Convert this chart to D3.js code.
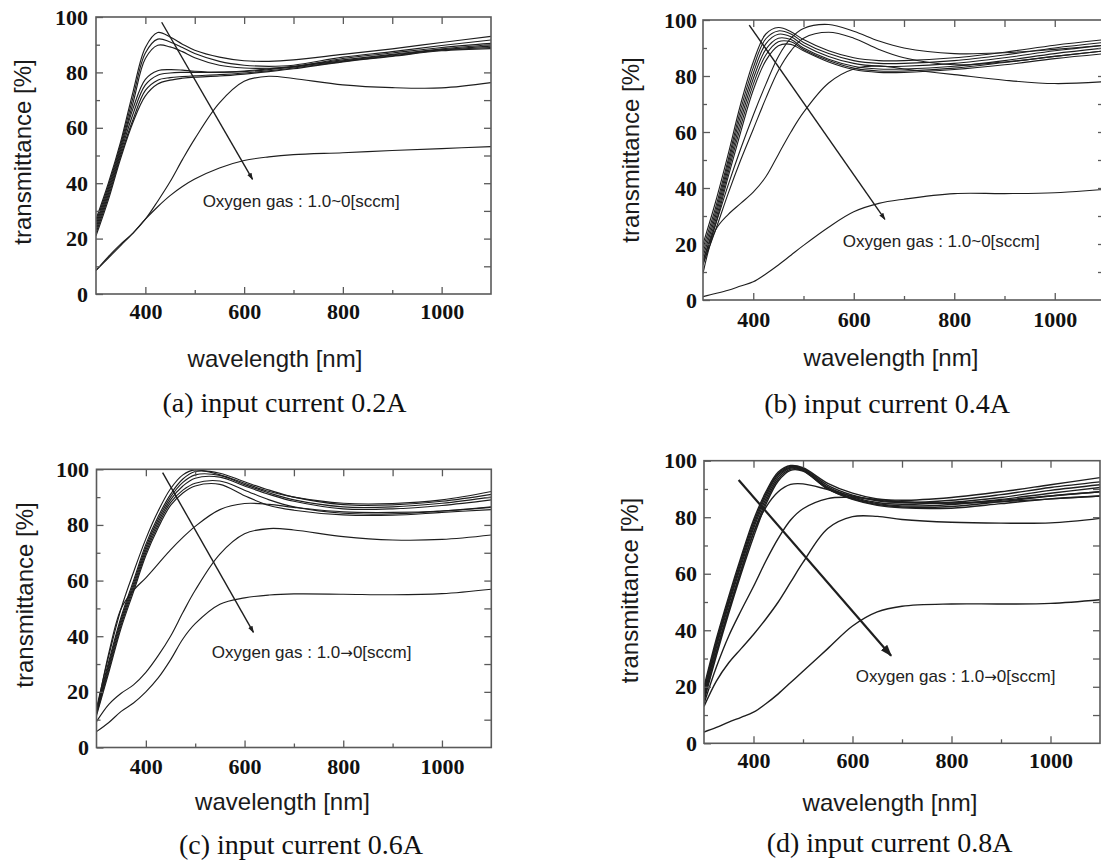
<!DOCTYPE html>
<html>
<head>
<meta charset="utf-8">
<script src="https://cdn.jsdelivr.net/npm/d3@7"></script>
<style>
  html, body { margin: 0; padding: 0; background: #fff; }
  svg { display: block; }
</style>
</head>
<body>
<svg id="chart" width="1101" height="864"></svg>
<script>
// ── Data ──────────────────────────────────────
const wavelengths = [300, 325, 350, 375, 400, 425, 450, 475, 500, 550, 600, 650, 700, 800, 900, 1000, 1100];

const xMajorTicks = [400, 600, 800, 1000];
const xMinorTicks = [500, 700, 900];
const xAllTicks   = [400, 500, 600, 700, 800, 900, 1000];
const yMajorTicks = [0, 20, 40, 60, 80, 100];
const yMinorTicks = [10, 30, 50, 70, 90];

// (a) input current 0.2A
const curvesA = [
  [27, 40, 55, 73, 89, 94.4, 92.8, 90.2, 88, 85.5, 84.2, 84, 84.5, 86.5, 88.5, 90.8, 93],
  [26, 39, 54, 71, 87, 92, 91, 89, 86.8, 84, 82.6, 82.2, 82.6, 85.5, 87.5, 89.7, 91.7],
  [25, 38, 53, 69, 85, 89.8, 89.2, 87.5, 85.3, 82.6, 81.6, 81.5, 82, 85, 87, 89, 90.5],
  [24, 37, 52, 67, 77.5, 80.6, 81, 80.8, 80.4, 80.1, 80.5, 81.3, 82.2, 84.5, 86.5, 88.5, 90],
  [23, 36, 51, 65, 75.5, 79, 79.8, 80, 80, 80, 80.3, 81, 82, 84.2, 86.3, 88.2, 89.5],
  [22, 35, 50, 63, 73.5, 77.2, 78.1, 78.5, 78.8, 79.2, 79.8, 80.6, 81.6, 84, 86, 88, 89],
  [21, 34, 49, 62, 71.5, 75.8, 77.2, 77.9, 78.3, 78.7, 79.4, 80.3, 81.3, 83.8, 85.8, 87.8, 88.6],
  [8.5, 13.5, 18, 22, 27, 33.5, 40.5, 48.5, 56, 69, 76.8, 78.6, 77.8, 75.5, 74.5, 74.4, 76.3],
  [8.5, 13, 17.5, 22, 27, 31.5, 35.5, 38.8, 41.5, 45.5, 48.2, 49.5, 50.3, 51, 51.8, 52.5, 53.2]
];

// (b) input current 0.4A
const curvesB = [
  [20, 35, 52, 70, 85, 95, 97.3, 95.8, 93, 89, 86.5, 85.5, 85.5, 86.5, 88.5, 91, 93],
  [18.5, 33, 50, 68, 83, 93.3, 96.1, 95, 92, 88, 85.5, 84.5, 84.5, 85.5, 87.5, 90, 92],
  [17, 31.5, 48.5, 66, 81, 91.5, 94.9, 94, 91, 87, 84.5, 83.5, 83.5, 84.5, 86.5, 89, 91],
  [15.5, 30, 47, 64, 79, 89.5, 93.5, 93, 90, 86, 83.5, 82.5, 82.5, 83.5, 85.5, 88, 90],
  [14, 28.5, 45.5, 62, 77, 87.5, 92.2, 92.2, 89.5, 85.5, 82.8, 81.8, 81.8, 82.8, 84.8, 87, 89],
  [12.5, 27, 44, 60, 75, 85.5, 90.8, 91.3, 89, 85, 82.3, 81.3, 81.3, 82.3, 84, 86.2, 88],
  [14, 27, 41, 54, 66, 77, 87, 93.5, 97, 98.4, 96, 92.5, 90, 88, 88.3, 89.5, 91],
  [13, 25, 38, 50, 61, 72, 82, 89, 93.5, 95.6, 93.5, 89.5, 86.5, 84, 85, 87, 89],
  [9.5, 25, 30.5, 34.5, 38.5, 44, 52, 60, 67, 77.5, 82.5, 83.6, 82.5, 80.5, 78.5, 77.3, 78],
  [1.2, 2.3, 3.5, 5, 6.5, 9.3, 12.5, 16, 19.5, 26, 31.5, 34.5, 36, 38, 38, 38.3, 39.5]
];

// (c) input current 0.6A
const curvesC = [
  [14, 33, 50, 63, 75, 85, 93, 98, 99.8, 98, 95, 92, 90, 87.8, 87.7, 89, 92],
  [13.5, 31, 47, 60, 73, 83, 91, 96.5, 99.2, 98.6, 95.5, 92.5, 90, 87.3, 87.2, 88.5, 91],
  [13, 30, 46, 59, 72, 82, 90, 95.3, 98, 97.8, 94.5, 91.5, 89, 86.5, 86.5, 87.8, 90],
  [12.5, 29, 45, 58, 71, 81, 89, 94, 96.8, 97.2, 94, 91, 88.5, 85.8, 85.8, 87, 89],
  [12, 28, 44, 57, 70, 80, 88, 92.5, 95, 95.8, 92.5, 89, 86.5, 84.2, 84, 85, 86.5],
  [11.5, 27, 43, 56, 69, 79, 87, 91.5, 94, 94.6, 90.5, 87, 85.3, 83.6, 83.5, 84.5, 85.5],
  [12.5, 34, 50, 56.5, 61, 66, 71, 75.5, 79.5, 85.5, 87.7, 87.4, 86.3, 84.7, 84.5, 85, 86.3],
  [9.3, 15.5, 19.5, 22.5, 27, 33, 40, 48.5, 56.5, 69.5, 76.8, 78.7, 78.2, 75.8, 74.6, 74.8, 76.4],
  [5.7, 9, 13, 16, 20, 25, 31.5, 39, 44.5, 51.5, 53.8, 54.8, 55.2, 55.1, 54.9, 55.3, 56.9]
];

// (d) input current 0.8A
const curvesD = [
  [20, 37, 52, 66, 79, 89, 96, 98.3, 97.5, 92, 88.5, 86.5, 86, 87, 89, 91.5, 94],
  [19, 36, 51, 65, 78, 88.3, 95.5, 98, 97.2, 91.3, 87.8, 85.8, 85.2, 86, 88, 90.5, 92.5],
  [18, 35, 50, 64, 77, 87.5, 95, 97.7, 96.9, 90.7, 87.2, 85.2, 84.6, 85.3, 87, 89.5, 91.5],
  [17, 34, 49, 63, 76, 86.5, 94.3, 97.4, 96.7, 90.3, 86.8, 84.8, 84, 84.5, 86.3, 88.5, 90.5],
  [16, 32.5, 47.5, 61.5, 74.5, 85.5, 93.5, 97, 96.5, 90, 86.5, 84.5, 83.6, 83.8, 85.5, 87.5, 89],
  [15, 31, 46, 60, 73, 84.5, 92.8, 96.6, 96.3, 90, 86.3, 84.2, 83.3, 83.2, 84.8, 86.5, 87.5],
  [15.5, 32, 47, 61, 74.5, 83.5, 89, 91.6, 91.8, 89.8, 87.5, 86, 85.3, 85, 86, 87.5, 89],
  [14, 27, 38, 47, 55.5, 64.5, 72.5, 79, 83, 86.6, 87, 86.3, 85.5, 85, 85.5, 86.5, 87.5],
  [13, 22, 28.5, 33.5, 38.5, 44, 50, 57, 64, 76, 80.2, 80.3, 79.2, 78.2, 77.9, 78, 79.6],
  [4, 5.6, 7.5, 9.2, 11, 14, 17.5, 21.5, 25.5, 33.5, 41.5, 46.5, 48.5, 49.3, 49.3, 49.5, 50.8]
];

// arrow [x0, y0, x1, y1] in nm / %, note anchor [x, y]
const arrowA = [433, 98.1, 617, 41.4];
const arrowB = [392, 98.2, 662, 28.8];
const arrowC = [434, 98.8, 618, 41.4];
const arrowD = [370, 93.2, 678, 31];

const noteA = [516, 31.4];
const noteB = [578, 19];
const noteC = [533.6, 32.1];
const noteD = [606.5, 21.7];

// note text pieces: [before, link, after]
const noteTilde = ["Oxygen gas : 1.0", "~", "0[sccm]"];
const noteArrow = ["Oxygen gas : 1.0", "\u2192", "0[sccm]"];

const captions = [
  "(a) input current 0.2A",
  "(b) input current 0.4A",
  "(c) input current 0.6A",
  "(d) input current 0.8A"
];

const xTitle = "wavelength [nm]";
const yTitle = "transmittance [%]";

// ── Styles ────────────────────────────────────
const SERIF = "'Liberation Serif', 'Times New Roman', serif";
const SANS  = "'Liberation Sans', Arial, sans-serif";
const FRAME = "#5a5a5a";
const INK   = "#1e1e1e";

// ── Panel layout (pixels) ─────────────────────
const panels = [
  { curves: curvesA, arrow: arrowA, note: noteA, noteText: noteTilde, caption: captions[0],
    left: 96, right: 491, top: 17, bottom: 294,
    xPad: 9, yPad: 8, yTitlePos: [31, 152], xTitlePos: [275, 367], captionPos: [284.5, 412],
    lineW: 1.15, arrowW: 1.4, head: "sm" },
  { curves: curvesB, arrow: arrowB, note: noteB, noteText: noteTilde, caption: captions[1],
    left: 703, right: 1105, top: 20, bottom: 300,
    xPad: 11, yPad: 6, yTitlePos: [639, 150], xTitlePos: [891, 366], captionPos: [887, 413],
    lineW: 1.1, arrowW: 1.4, head: "sm" },
  { curves: curvesC, arrow: arrowC, note: noteC, noteText: noteArrow, caption: captions[2],
    left: 96.5, right: 491.3, top: 469.3, bottom: 747.5,
    xPad: 10.5, yPad: 7.5, yTitlePos: [33, 595], xTitlePos: [282.5, 810], captionPos: [301, 854],
    lineW: 1.15, arrowW: 1.4, head: "sm" },
  { curves: curvesD, arrow: arrowD, note: noteD, noteText: noteArrow, caption: captions[3],
    left: 704, right: 1100, top: 460.7, bottom: 743.3,
    xPad: 9, yPad: 7, yTitlePos: [638, 590.5], xTitlePos: [890, 811], captionPos: [889.5, 852],
    lineW: 1.4, arrowW: 2.2, head: "lg" }
];

const svg  = d3.select("#chart");
const defs = svg.append("defs");

// ── Arrow heads ───────────────────────────────
[["sm", 7], ["lg", 12]].forEach(([name, size]) => {
  defs.append("marker")
    .attr("id", `head-${name}`)
    .attr("viewBox", "0 0 10 10")
    .attr("refX", 9).attr("refY", 5)
    .attr("markerWidth", size).attr("markerHeight", size)
    .attr("markerUnits", "userSpaceOnUse")
    .attr("orient", "auto")
    .append("path")
    .attr("d", "M0,1.5 L10,5 L0,8.5 Z")
    .attr("fill", INK);
});

panels.forEach((p, i) => buildPanel(p, i));

// ── Panel ─────────────────────────────────────
function buildPanel(p, i) {
  const x = d3.scaleLinear().domain([300, 1100]).range([p.left, p.right]);
  const y = d3.scaleLinear().domain([0, 100]).range([p.bottom, p.top]);

  const g = svg.append("g").attr("class", `panel-${i}`);

  const clipId = `clip-${i}`;
  defs.append("clipPath").attr("id", clipId)
    .append("rect")
    .attr("x", p.left).attr("y", p.top)
    .attr("width", p.right - p.left).attr("height", p.bottom - p.top);

  // curves
  const line = d3.line()
    .x((d, k) => x(wavelengths[k]))
    .y(d => y(d))
    .curve(d3.curveCatmullRom.alpha(0.5));

  g.append("g")
    .attr("clip-path", `url(#${clipId})`)
    .selectAll("path")
    .data(p.curves)
    .join("path")
    .attr("d", line)
    .attr("fill", "none")
    .attr("stroke", INK)
    .attr("stroke-width", p.lineW)
    .attr("stroke-linejoin", "round");

  // axes (inward ticks on all four sides)
  const tickStyle = sel => {
    sel.select(".domain").remove();
    sel.selectAll(".tick line").attr("stroke", FRAME).attr("stroke-width", 1.3);
  };
  const labelStyle = sel => sel.selectAll(".tick text")
    .attr("fill", "#111")
    .attr("font-family", SERIF)
    .attr("font-size", "22px")
    .attr("font-weight", "bold");

  g.append("g").attr("transform", `translate(0,${p.bottom})`)
    .call(d3.axisBottom(x).tickValues(xMajorTicks).tickSize(-7).tickPadding(p.xPad).tickFormat(d3.format("d")))
    .call(tickStyle).call(labelStyle);
  g.append("g").attr("transform", `translate(0,${p.bottom})`)
    .call(d3.axisBottom(x).tickValues(xMinorTicks).tickSize(-4).tickFormat(""))
    .call(tickStyle);
  g.append("g").attr("transform", `translate(0,${p.top})`)
    .call(d3.axisTop(x).tickValues(xAllTicks).tickSize(-7).tickFormat(""))
    .call(tickStyle);

  g.append("g").attr("transform", `translate(${p.left},0)`)
    .call(d3.axisLeft(y).tickValues(yMajorTicks).tickSize(-7).tickPadding(p.yPad).tickFormat(d3.format("d")))
    .call(tickStyle).call(labelStyle);
  g.append("g").attr("transform", `translate(${p.left},0)`)
    .call(d3.axisLeft(y).tickValues(yMinorTicks).tickSize(-4).tickFormat(""))
    .call(tickStyle);
  g.append("g").attr("transform", `translate(${p.right},0)`)
    .call(d3.axisRight(y).tickValues(yMajorTicks.slice(1, -1).concat(yMinorTicks)).tickSize(-7).tickFormat(""))
    .call(tickStyle);

  // frame
  g.append("rect")
    .attr("x", p.left).attr("y", p.top)
    .attr("width", p.right - p.left).attr("height", p.bottom - p.top)
    .attr("fill", "none")
    .attr("stroke", FRAME)
    .attr("stroke-width", 1.6);

  // arrow
  g.append("line")
    .attr("x1", x(p.arrow[0])).attr("y1", y(p.arrow[1]))
    .attr("x2", x(p.arrow[2])).attr("y2", y(p.arrow[3]))
    .attr("stroke", INK)
    .attr("stroke-width", p.arrowW)
    .attr("marker-end", `url(#head-${p.head})`);

  // annotation
  const note = g.append("text")
    .attr("x", x(p.note[0])).attr("y", y(p.note[1]))
    .attr("fill", "#222")
    .attr("font-family", SANS)
    .attr("font-size", "17px");
  note.append("tspan").text(p.noteText[0]);
  note.append("tspan")
    .attr("font-family", p.noteText[1] === "~" ? SANS : "'DejaVu Sans', sans-serif")
    .attr("font-size", p.noteText[1] === "~" ? "17px" : "15px")
    .text(p.noteText[1]);
  note.append("tspan").text(p.noteText[2]);

  // titles
  g.append("text")
    .attr("transform", `translate(${p.yTitlePos[0]},${p.yTitlePos[1]}) rotate(-90)`)
    .attr("text-anchor", "middle")
    .attr("fill", "#1a1a1a")
    .attr("font-family", SANS)
    .attr("font-size", "24px")
    .text(yTitle);

  g.append("text")
    .attr("x", p.xTitlePos[0]).attr("y", p.xTitlePos[1])
    .attr("text-anchor", "middle")
    .attr("fill", "#1a1a1a")
    .attr("font-family", SANS)
    .attr("font-size", "24px")
    .text(xTitle);

  g.append("text")
    .attr("x", p.captionPos[0]).attr("y", p.captionPos[1])
    .attr("text-anchor", "middle")
    .attr("fill", "#111")
    .attr("font-family", SERIF)
    .attr("font-size", "28px")
    .text(p.caption);
}
</script>
</body>
</html>
